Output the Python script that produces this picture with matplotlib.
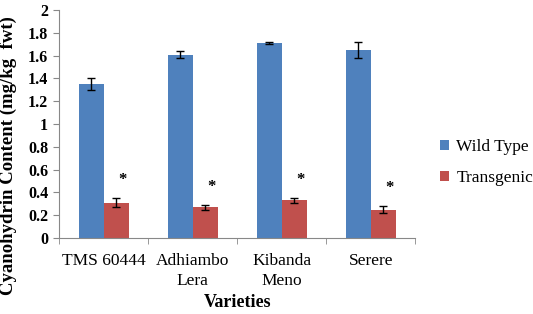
import matplotlib
matplotlib.use("Agg")
import matplotlib.pyplot as plt
import numpy as np

categories = ["TMS 60444", "Adhiambo\nLera", "Kibanda\nMeno", "Serere"]
wild_type = [1.35, 1.61, 1.71, 1.65]
wild_err = [0.05, 0.03, 0.01, 0.07]
transgenic = [0.31, 0.27, 0.33, 0.25]
trans_err = [0.04, 0.02, 0.02, 0.03]
yticks = [0, 0.2, 0.4, 0.6, 0.8, 1, 1.2, 1.4, 1.6, 1.8, 2]
ytick_labels = ["0", "0.2", "0.4", "0.6", "0.8", "1", "1.2", "1.4", "1.6", "1.8", "2"]

plt.rcParams['font.family'] = ['Liberation Serif', 'DejaVu Serif']

fig = plt.figure(figsize=(5.33, 3.14), dpi=100)
ax = fig.add_axes([0.111, 0.242, 0.668, 0.726])

x = np.arange(len(categories))
w = 0.28
blue = "#4F81BD"
red = "#C0504D"
ax.bar(x - w/2, wild_type, w, color=blue, yerr=wild_err, capsize=3,
       error_kw=dict(ecolor="black", elinewidth=1, capthick=1), label="Wild Type")
ax.bar(x + w/2, transgenic, w, color=red, yerr=trans_err, capsize=3,
       error_kw=dict(ecolor="black", elinewidth=1, capthick=1), label="Transgenic")
for xi, v, e in zip(x, transgenic, trans_err):
    ax.text(xi + w/2 + 0.07, v + e + 0.09, "*", ha="center", va="bottom", fontsize=12, fontweight="bold")

ax.set_xlim(-0.5, len(categories) - 0.5)
ax.set_ylim(0, 2)
ax.set_yticks(yticks)
ax.set_yticklabels(ytick_labels, fontsize=11.5, fontweight="bold")
ax.set_xticks(x)
ax.set_xticklabels(categories, fontsize=12.5, linespacing=1.3)
ax.set_xticks(np.arange(len(categories) + 1) - 0.5, minor=True)
ax.tick_params(axis="x", which="major", length=0, pad=11)
ax.tick_params(axis="x", which="minor", length=4, color="#888888", direction="out")
ax.tick_params(axis="y", length=4, color="#888888", direction="out", pad=4)
for s in ["top", "right"]:
    ax.spines[s].set_visible(False)
for s in ["left", "bottom"]:
    ax.spines[s].set_color("#888888")
ax.set_ylabel("Cyanohydrin Content (mg/kg  fwt)", fontsize=13.5, fontweight="bold")
ax.yaxis.set_label_coords(-0.118, 0.36)
ax.set_xlabel("Varieties", fontsize=13, fontweight="bold", labelpad=4)

ax.legend(loc="center left", bbox_to_anchor=(0.812, 0.4825), bbox_transform=fig.transFigure,
          borderaxespad=0, frameon=False, fontsize=12.5,
          handlelength=0.55, handleheight=0.55, handletextpad=0.4, labelspacing=0.85)

fig.savefig("out.png", dpi=100)
